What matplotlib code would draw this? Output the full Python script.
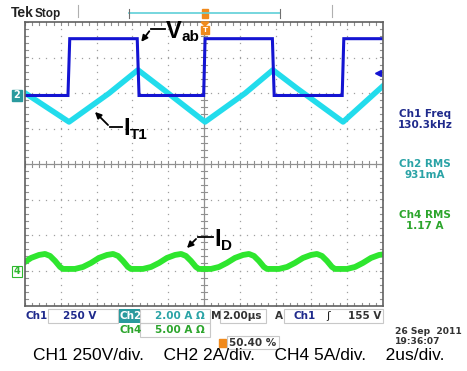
import numpy as np
import matplotlib
matplotlib.use("Agg")
import matplotlib.pyplot as plt
from matplotlib.patches import Rectangle, Polygon

# ---------------- data ----------------
# time in microseconds (2 us/div, 10 divisions)
vab_t = [0.00, 2.40, 2.50, 6.27, 6.37, 9.98, 10.06, 13.82, 13.92, 17.72, 17.81, 20.00]
vab_v = [0, 0, 400, 400, 0, 0, 400, 400, 0, 0, 400, 400]          # volts

it1_t = [0.00, 2.46, 4.69, 6.31, 7.65, 10.06, 12.29, 13.85, 15.20, 17.77, 20.00]
it1_a = [0.14, -1.49, 0.12, 1.44, 0.40, -1.49, 0.12, 1.44, 0.40, -1.49, 0.54]  # amps

id_t = [0.00, 0.34, 0.78, 1.12, 1.40, 1.68, 1.96, 2.12,
        2.79, 3.24, 3.69, 4.13, 4.58, 4.92, 5.20, 5.47, 5.75, 5.92,
        6.59, 7.04, 7.49, 7.93, 8.38, 8.72, 8.99, 9.27, 9.55, 9.72,
        10.39, 10.84, 11.28, 11.73, 12.18, 12.51, 12.79, 13.07, 13.35, 13.52,
        14.19, 14.64, 15.08, 15.53, 15.98, 16.31, 16.59, 16.87, 17.15, 17.32,
        17.99, 18.44, 18.88, 19.33, 19.78, 20.00]
id_a = [1.41, 1.97, 2.39, 2.53, 2.25, 1.55, 0.70, 0.42,
        0.42, 0.70, 1.27, 1.97, 2.39, 2.53, 2.25, 1.55, 0.70, 0.42,
        0.42, 0.70, 1.27, 1.97, 2.39, 2.53, 2.25, 1.55, 0.70, 0.42,
        0.42, 0.70, 1.27, 1.97, 2.39, 2.53, 2.25, 1.55, 0.70, 0.42,
        0.42, 0.70, 1.27, 1.97, 2.39, 2.53, 2.25, 1.55, 0.70, 0.42,
        0.42, 0.70, 1.27, 1.97, 2.39, 2.46]

ch_scale = {"ch1": 250.0, "ch2": 2.0, "ch4": 5.0}      # units per division
ch_offset = {"ch1": 1.93, "ch2": 1.93, "ch4": -3.04}    # ground position in divisions

# ---------------- figure ----------------
W, H = 467, 371
fig = plt.figure(figsize=(W / 100, H / 100), dpi=100)
fig.patch.set_facecolor("white")

def fx(x):
    return x / W

def fy(y):
    return 1 - y / H

L, R, T, B = 25, 383, 22, 306
ax = fig.add_axes([fx(L), fy(B), (R - L) / W, (B - T) / H])
ax.set_xlim(0, 20)
ax.set_ylim(-4, 4)
ax.set_facecolor("white")

grid_c = "#a0a0a0"
# dotted graticule
dot_x = np.arange(0, 20.001, 0.4)
dot_y = np.arange(-4, 4.001, 0.2)
for gx in np.arange(2, 20, 2):
    if abs(gx - 10) > 1e-6:
        ax.plot(np.full_like(dot_y, gx), dot_y, ls="none", marker="s", ms=0.9,
                color=grid_c, mew=0)
for gy in np.arange(-3, 4, 1):
    if abs(gy) > 1e-6:
        ax.plot(dot_x, np.full_like(dot_x, gy), ls="none", marker="s", ms=0.9,
                color=grid_c, mew=0)
# centre cross with ticks
ax.axhline(0, color="#909090", lw=0.9)
ax.axvline(10, color="#909090", lw=0.9)
for tx in np.arange(0, 20.001, 0.4):
    ax.plot([tx, tx], [-0.09, 0.09], color="#909090", lw=0.8)
for ty in np.arange(-4, 4.001, 0.2):
    ax.plot([9.82, 10.18], [ty, ty], color="#909090", lw=0.8)
# edge ticks
for tx in np.arange(0, 20.001, 0.4):
    ax.plot([tx, tx], [4, 3.91], color="#909090", lw=0.8)
    ax.plot([tx, tx], [-4, -3.91], color="#909090", lw=0.8)
for ty in np.arange(-4, 4.001, 0.2):
    ax.plot([0, 0.18], [ty, ty], color="#909090", lw=0.8)
    ax.plot([20, 19.82], [ty, ty], color="#909090", lw=0.8)

ax.set_xticks([])
ax.set_yticks([])
for s in ax.spines.values():
    s.set_color("#606060")
    s.set_linewidth(1.2)

def to_div(vals, ch):
    return np.asarray(vals, float) / ch_scale[ch] + ch_offset[ch]

ax.plot(id_t, to_div(id_a, "ch4"), color="#2ee62e", lw=4.2, solid_joinstyle="round")
ax.plot(it1_t, to_div(it1_a, "ch2"), color="#22dcec", lw=4.0, solid_joinstyle="round")
ax.plot(vab_t, to_div(vab_v, "ch1"), color="#1414d2", lw=2.2, solid_joinstyle="miter")

# trigger level arrow on right edge
trig_level = 155
ax.plot([19.7], [to_div([trig_level], "ch1")[0]], marker="<", color="#1414d2", ms=4,
        clip_on=False)

# ---------------- annotations ----------------
ann_kw = dict(color="black", lw=1.3)
# V_ab
fig.add_artist(plt.Line2D([fx(165), fx(151)], [fy(29), fy(29)], **ann_kw))
ax.annotate("", xy=(6.4, to_div([400], "ch1")[0] - 0.15), xycoords="data",
            xytext=(fx(151), fy(29)), textcoords="figure fraction",
            arrowprops=dict(arrowstyle="-|>", color="black", lw=1.3, mutation_scale=9))
fig.text(fx(166), fy(38), "V", fontsize=17, fontweight="bold", family="Liberation Sans",
         va="baseline")
fig.text(fx(181), fy(41), "ab", fontsize=11, fontweight="bold", family="Liberation Sans",
         va="baseline")
# I_T1
fig.add_artist(plt.Line2D([fx(122), fx(110)], [fy(127), fy(127)], **ann_kw))
ax.annotate("", xy=(fx(93), fy(110)), xycoords="figure fraction",
            xytext=(fx(110), fy(127)), textcoords="figure fraction",
            arrowprops=dict(arrowstyle="-|>", color="black", lw=1.3, mutation_scale=9))
fig.text(fx(123), fy(135), "I", fontsize=17, fontweight="bold", family="Liberation Sans",
         va="baseline")
fig.text(fx(130), fy(139), "T1", fontsize=11, fontweight="bold", family="Liberation Sans",
         va="baseline")
# I_D
fig.add_artist(plt.Line2D([fx(213), fx(198)], [fy(237), fy(237)], **ann_kw))
ax.annotate("", xy=(fx(185), fy(250)), xycoords="figure fraction",
            xytext=(fx(198), fy(237)), textcoords="figure fraction",
            arrowprops=dict(arrowstyle="-|>", color="black", lw=1.3, mutation_scale=9))
fig.text(fx(214), fy(246), "I", fontsize=17, fontweight="bold", family="Liberation Sans",
         va="baseline")
fig.text(fx(221), fy(250), "D", fontsize=11, fontweight="bold", family="Liberation Sans",
         va="baseline")

# ---------------- channel markers ----------------
fig.patches.append(Rectangle((fx(12), fy(101)), 10 / W, 11 / H, transform=fig.transFigure,
                             facecolor="#2a9a9e", edgecolor="#2a9a9e"))
fig.text(fx(17), fy(95.5), "2", color="white", fontsize=7, fontweight="bold",
         ha="center", va="center")
fig.patches.append(Rectangle((fx(12), fy(277)), 10 / W, 11 / H, transform=fig.transFigure,
                             facecolor="white", edgecolor="#2eb82e", lw=0.8))
fig.text(fx(17), fy(271.5), "4", color="#2eb82e", fontsize=7, fontweight="bold",
         ha="center", va="center")

# trigger position marker (orange)
orange = "#f08a1c"
fig.patches.append(Polygon([(fx(201), fy(22)), (fx(209), fy(22)), (fx(205), fy(26))],
                           closed=True, transform=fig.transFigure, color=orange))
fig.patches.append(Rectangle((fx(201), fy(34)), 8 / W, 8 / H, transform=fig.transFigure,
                             facecolor=orange, edgecolor=orange))
fig.text(fx(205), fy(30), "T", color="white", fontsize=5, fontweight="bold",
         ha="center", va="center")

# ---------------- top bar ----------------
fig.text(fx(11), fy(17), "Tek", fontsize=10, fontweight="bold", family="Liberation Sans",
         va="baseline", color="#222222")
fig.text(fx(35), fy(17), "Stop", fontsize=8.5, fontweight="bold", va="baseline",
         family="Liberation Sans", color="#222222")
fig.add_artist(plt.Line2D([fx(78), fx(78)], [fy(5), fy(17)], color="#b0b0b0", lw=0.8))
fig.add_artist(plt.Line2D([fx(332), fx(332)], [fy(5), fy(17)], color="#b0b0b0", lw=0.8))
fig.add_artist(plt.Line2D([fx(129), fx(280)], [fy(13), fy(13)], color="#5fd0d8", lw=1.2))
for bx in (129, 280):
    fig.add_artist(plt.Line2D([fx(bx), fx(bx)], [fy(9), fy(18)], color="#707070", lw=0.8))
fig.patches.append(Rectangle((fx(202), fy(18)), 6 / W, 9 / H, transform=fig.transFigure,
                             facecolor=orange, edgecolor=orange))

# ---------------- right-side readouts ----------------
navy = "#1f2a8c"
teal = "#2aa3a6"
green = "#2ca52c"
rkw = dict(fontsize=7.5, ha="center", va="center", fontweight="bold")
fig.text(fx(425), fy(114), "Ch1 Freq", color=navy, **rkw)
fig.text(fx(425), fy(125), "130.3kHz", color=navy, **rkw)
fig.text(fx(425), fy(164), "Ch2 RMS", color=teal, **rkw)
fig.text(fx(425), fy(175), "931mA", color=teal, **rkw)
fig.text(fx(425), fy(215), "Ch4 RMS", color=green, **rkw)
fig.text(fx(425), fy(226), "1.17 A", color=green, **rkw)

# ---------------- bottom readouts ----------------
bkw = dict(fontsize=7.5, va="center", fontweight="bold")
box_c = "#c8c8c8"

def box(x0, y0, x1, y1):
    fig.patches.append(Rectangle((fx(x0), fy(y1)), (x1 - x0) / W, (y1 - y0) / H,
                                 transform=fig.transFigure, facecolor="none",
                                 edgecolor=box_c, lw=0.8))

fig.text(fx(26), fy(316), "Ch1", color=navy, **bkw)
box(48, 309, 118, 323)
fig.text(fx(63), fy(316), "250 V", color=navy, **bkw)
fig.patches.append(Rectangle((fx(119), fy(323)), 21 / W, 14 / H, transform=fig.transFigure,
                             facecolor="#2a9a9e", edgecolor="none"))
fig.text(fx(120), fy(316), "Ch2", color="white", **bkw)
box(140, 309, 210, 323)
fig.text(fx(155), fy(316), "2.00 A \u03a9", color=teal, **bkw)
fig.text(fx(211), fy(316), "M", color="#333333", **bkw)
box(220, 309, 266, 323)
fig.text(fx(222), fy(316), "2.00\u00b5s", color="#333333", **bkw)
fig.text(fx(275), fy(316), "A", color="#333333", **bkw)
box(284, 309, 383, 323)
fig.text(fx(294), fy(316), "Ch1", color=navy, **bkw)
fig.text(fx(326), fy(316), "\u0283", color="#222222", fontsize=8, va="center")
fig.text(fx(381), fy(316), "155 V", color="#333333", ha="right",
         fontsize=7.5, va="center", fontweight="bold")

fig.text(fx(120), fy(330), "Ch4", color=green, **bkw)
box(140, 323, 210, 337)
fig.text(fx(155), fy(330), "5.00 A \u03a9", color=green, **bkw)

fig.patches.append(Rectangle((fx(219), fy(347)), 7 / W, 8 / H, transform=fig.transFigure,
                             facecolor=orange, edgecolor=orange))
box(227, 336, 279, 349)
fig.text(fx(229), fy(343), "50.40 %", color="#333333", **bkw)

fig.text(fx(395), fy(331), "26 Sep  2011", color="#333333", fontsize=6.6,
         va="center", fontweight="bold")
fig.text(fx(395), fy(341), "19:36:07", color="#333333", fontsize=6.6,
         va="center", fontweight="bold")

fig.text(fx(239), fy(356), "CH1 250V/div.    CH2 2A/div.    CH4 5A/div.    2us/div.",
         fontsize=12.5, ha="center", va="center", family="Liberation Sans",
         color="black")

fig.savefig("out.png", dpi=100, facecolor="white")
